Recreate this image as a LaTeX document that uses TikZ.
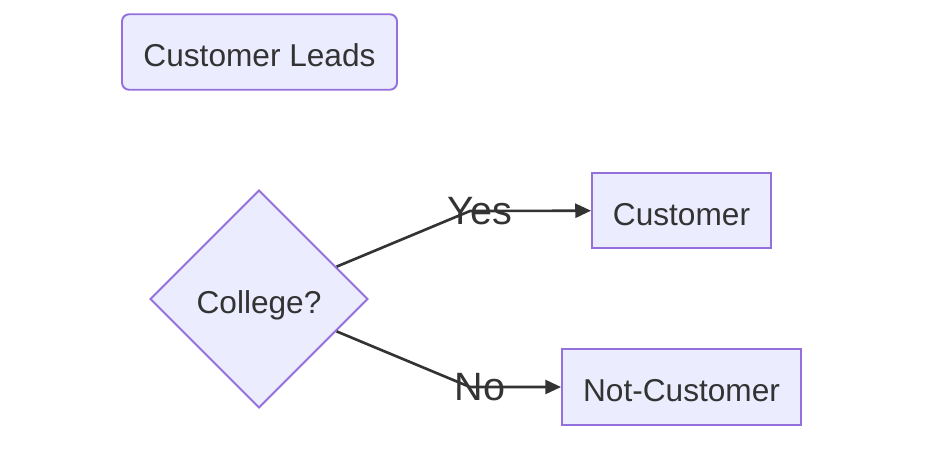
\documentclass[tikz,border=0pt]{standalone}
\usepackage{fontspec}
\setmainfont{Liberation Sans}
\usetikzlibrary{shapes.geometric,arrows.meta}
\definecolor{nodefill}{HTML}{ECECFF}
\definecolor{nodeline}{HTML}{9370DB}
\definecolor{inkgrey}{HTML}{333333}
\begin{document}
\begin{tikzpicture}[x=0.02cm,y=-0.02cm]
    \tikzset{% This is the style settings for nodes
    box/.style={rectangle,draw=nodeline,fill=nodefill,line width=1.1pt,text=inkgrey,font=\fontsize{18}{22}\selectfont,text height=17pt,text depth=0pt,minimum height=1.51cm},
    lead/.style={box,rounded corners=4pt},
    dec/.style={diamond,draw=nodeline,fill=nodefill,line width=1.1pt,text=inkgrey,font=\fontsize{18}{22}\selectfont,text height=17pt,text depth=0pt,minimum width=4.36cm,minimum height=4.36cm,inner sep=0pt},
    lbl/.style={text=inkgrey,font=\fontsize{22.5}{26}\selectfont,inner sep=0pt},
    c1/.style={draw=inkgrey,line width=1.5pt,-{Triangle[length=9pt,width=8pt]}},
    }
    \useasboundingbox (0,0) rectangle (932,458);
    % Nodes
    \node[lead,minimum width=5.5cm] (leads) at (259.5,52) {Customer Leads};
    \node[dec] (college) at (259,299) {College?};
    \node[box,minimum width=3.58cm] (cust) at (681.5,210.5) {Customer};
    \node[box,minimum width=4.78cm] (notcust) at (681.5,387) {Not-Customer};
    \coordinate (ybend) at (470,211);
    \coordinate (nbend) at (470,387);

    %Edges
    \draw[c1] (college) -- (ybend) -- (cust);
    \draw[c1] (college) -- (nbend) -- (notcust);
    \node[lbl] (yes) at (480,211) {Yes};
    \node[lbl] (no) at (480,387) {No};
\end{tikzpicture}
\end{document}
